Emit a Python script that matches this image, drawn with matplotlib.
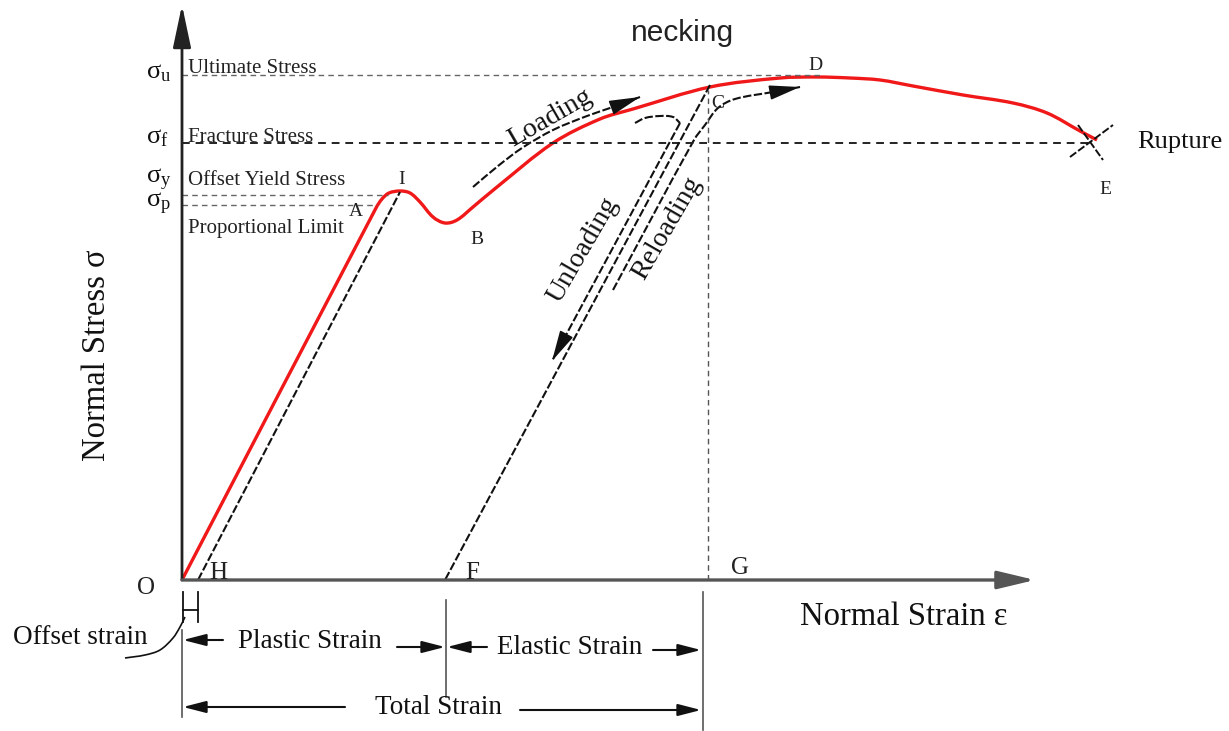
import numpy as np
import matplotlib.pyplot as plt
from matplotlib.path import Path
from matplotlib.patches import PathPatch

plt.rcParams['font.family'] = ['Liberation Serif', 'DejaVu Serif']
plt.rcParams['mathtext.fontset'] = 'custom'
plt.rcParams['mathtext.rm'] = 'Liberation Serif'
plt.rcParams['mathtext.it'] = 'Liberation Serif'

# diagram units: strain / stress measured from the origin O
curve_strain = [0, 194, 200, 207, 218, 228, 238, 251, 263, 275, 291, 315, 371, 418, 451,
                528, 598, 635, 668, 698, 731, 781, 831, 865, 898, 915]
curve_stress = [0, 372, 381, 387, 389, 387, 378, 363, 357, 360, 373, 393, 437, 461, 471,
                493, 502, 503, 502, 500, 494, 485, 477, 467, 449, 440]

offset_strain = [16, 218]
offset_stress = [0, 388]

unload_strain = [528, 263]
unload_stress = [495, 0]

unload_arrow_strain = [453, 463, 478, 491, 498, 370]
unload_arrow_stress = [457, 462, 464, 463, 457, 219]

reload_strain = [431, 512, 523, 536, 553, 591, 618]
reload_stress = [290, 440, 455, 472, 481, 488, 493]

load_strain = [291, 316, 340, 371, 405, 431, 458]
load_stress = [393, 414, 432, 450, 464, 473, 483]

leader_strain = [-57, -37, -22, -9, -2, 3]
leader_stress = [-78, -75, -70, -58, -47, -37]

level_sub = ['u', 'f', 'y', 'p']
level_stress = [505, 437, 385, 375]
level_end = [638, 910, 206, 195]
level_name = ['Ultimate Stress', 'Fracture Stress', 'Offset Yield Stress', 'Proportional Limit']
level_name_y = [507, 438, 395, 347]
level_sym_y = [502, 437, 397, 373]

point_name = ['A', 'I', 'B', 'C', 'D', 'E']
point_strain = [174, 220, 295, 536, 633, 923]
point_stress = [368, 400, 340, 477, 515, 390]

axis_name = ['O', 'H', 'F', 'G']
axis_strain = [-36, 36, 290, 558]
axis_stress = [-8, 7, 7, 12]

strain_G = 526
strain_F = 264
strain_H = 16


def smooth(xs, ys):
    # bezier path through the read points, tangent handles a third of each segment
    p = np.column_stack([xs, ys]).astype(float)
    n = len(p)
    tang = []
    for i in range(n):
        d = p[min(i + 1, n - 1)] - p[max(i - 1, 0)]
        tang.append(d / np.hypot(*d))
    verts = [p[0]]
    codes = [Path.MOVETO]
    for i in range(n - 1):
        L = np.hypot(*(p[i + 1] - p[i])) / 3
        verts += [p[i] + tang[i] * L, p[i + 1] - tang[i + 1] * L, p[i + 1]]
        codes += [Path.CURVE4] * 3
    return Path(verts, codes)


def draw(xs, ys, **kw):
    ax.add_patch(PathPatch(smooth(xs, ys), fill=False, **kw))


fig = plt.figure(figsize=(12.29, 7.31), dpi=100)
ax = fig.add_axes([0, 0, 1, 1])
ax.set_xlim(-182, 1047)
ax.set_ylim(-151, 580)
ax.axis('off')

red = '#f01818'
ink = '#111111'
dash = (0, (4, 1.2))

# axes with arrows
ax.annotate('', xy=(0, 575), xytext=(0, 0),
            arrowprops=dict(arrowstyle='-|>,head_length=2.6,head_width=0.55',
                            mutation_scale=10, lw=2, color='#222222',
                            shrinkA=0, shrinkB=0))
ax.annotate('', xy=(853, 0), xytext=(0, 0),
            arrowprops=dict(arrowstyle='-|>,head_length=2.3,head_width=0.55',
                            mutation_scale=10, lw=2.4, color='#555555',
                            shrinkA=0, shrinkB=0))

# stress levels
for i in range(len(level_sub)):
    if level_sub[i] == 'f':
        ax.plot([0, level_end[i]], [level_stress[i]] * 2, color='#222222', lw=1.4,
                ls=(0, (4, 3)))
    else:
        ax.plot([0, level_end[i]], [level_stress[i]] * 2, color='#666666', lw=1.0,
                ls=(0, (4, 3)))
    ax.text(-36, level_sym_y[i], r'$\sigma_{%s}$' % level_sub[i], fontsize=19,
            ha='left', va='baseline', color=ink)
    ax.text(6, level_name_y[i], level_name[i], fontsize=15, ha='left',
            va='baseline', color='#222222')

# vertical through G
ax.plot([strain_G, strain_G], [0, 490], color='#555555', lw=1.0, ls=(0, (4, 3)))

# main curve
draw(curve_strain, curve_stress, edgecolor=red, lw=2.4, joinstyle='round')

# black paths
ax.plot(offset_strain, offset_stress, color=ink, lw=1.5, ls=dash)
ax.plot(unload_strain, unload_stress, color=ink, lw=1.5, ls=dash)
draw(unload_arrow_strain[:-1], unload_arrow_stress[:-1], edgecolor=ink, lw=1.5, ls=dash)
ax.plot(unload_arrow_strain[-2:], unload_arrow_stress[-2:], color=ink, lw=1.5, ls=dash)
draw(reload_strain, reload_stress, edgecolor=ink, lw=1.5, ls=dash)
draw(load_strain, load_stress, edgecolor=ink, lw=1.5, ls=dash)

head = dict(arrowstyle='-|>,head_length=1.9,head_width=0.45', mutation_scale=10,
            lw=1.2, color=ink, shrinkA=0, shrinkB=0)
for xs, ys in [(unload_arrow_strain, unload_arrow_stress),
               (reload_strain, reload_stress),
               (load_strain, load_stress)]:
    tip = np.array([xs[-1], ys[-1]], float)
    back = np.array([xs[-2], ys[-2]], float) - tip
    start = tip + back / np.hypot(*back) * 12
    ax.annotate('', xy=tip, xytext=start, arrowprops=head)

# rupture cross
ax.plot([888, 931], [423, 455], color=ink, lw=1.4, ls=dash)
ax.plot([896, 921], [455, 420], color=ink, lw=1.4, ls=dash)

# labels on the curve
for name, s, t in zip(point_name, point_strain, point_stress):
    ax.text(s, t, name, fontsize=14, ha='center', va='center', color='#222222')
for name, s, t in zip(axis_name, axis_strain, axis_stress):
    ax.text(s, t, name, fontsize=18, ha='center', va='center', color='#222222')

ax.text(955, 438, 'Rupture', fontsize=19, ha='left', va='center', color=ink)
ax.text(501, 547, 'necking', fontsize=21.5, family='Liberation Sans', ha='center',
        va='center', color='#222222')
ax.text(368, 462, 'Loading', fontsize=20, rotation=30, ha='center', va='center', color=ink)
ax.text(401, 330, 'Unloading', fontsize=20, rotation=60, ha='center', va='center', color=ink)
ax.text(485, 352, 'Reloading', fontsize=20, rotation=60, ha='center', va='center', color=ink)

ax.text(-85, 225, 'Normal Stress σ', fontsize=23.5, rotation=90, ha='center', va='center',
        color=ink)
ax.text(722, -37, 'Normal Strain ε', fontsize=23.5, ha='center', va='center', color=ink)

# dimension lines below the strain axis
dim = '#555555'
ax.plot([0, 0], [-50, -137], color=dim, lw=1.2)
ax.plot([strain_F, strain_F], [-20, -117], color=dim, lw=1.2)
ax.plot([521, 521], [-12, -150], color=dim, lw=1.2)

ax.plot([1, 1], [-12, -42], color=ink, lw=1.3)
ax.plot([strain_H, strain_H], [-12, -42], color=ink, lw=1.3)
ax.plot([1, strain_H], [-30, -30], color=ink, lw=1.3)
draw(leader_strain, leader_stress, edgecolor=ink, lw=1.2)

dim_head = dict(arrowstyle='-|>,head_length=1.4,head_width=0.36', mutation_scale=10,
                lw=1.5, color=ink, shrinkA=0, shrinkB=0)
dim_from = [(41, -60), (215, -67), (305, -67), (471, -70), (163, -127), (338, -130)]
dim_to = [(1, -60), (263, -67), (265, -67), (519, -70), (1, -127), (519, -130)]
for a, b in zip(dim_from, dim_to):
    ax.annotate('', xy=b, xytext=a, arrowprops=dim_head)

ax.text(-102, -58, 'Offset strain', fontsize=19.5, ha='center', va='center', color=ink)
ax.text(128, -61, 'Plastic Strain', fontsize=19.5, ha='center', va='center', color=ink)
ax.text(388, -68, 'Elastic Strain', fontsize=19.5, ha='center', va='center', color=ink)
ax.text(256, -128, 'Total Strain', fontsize=19.5, ha='center', va='center', color=ink)

fig.savefig('out.png', dpi=100)
